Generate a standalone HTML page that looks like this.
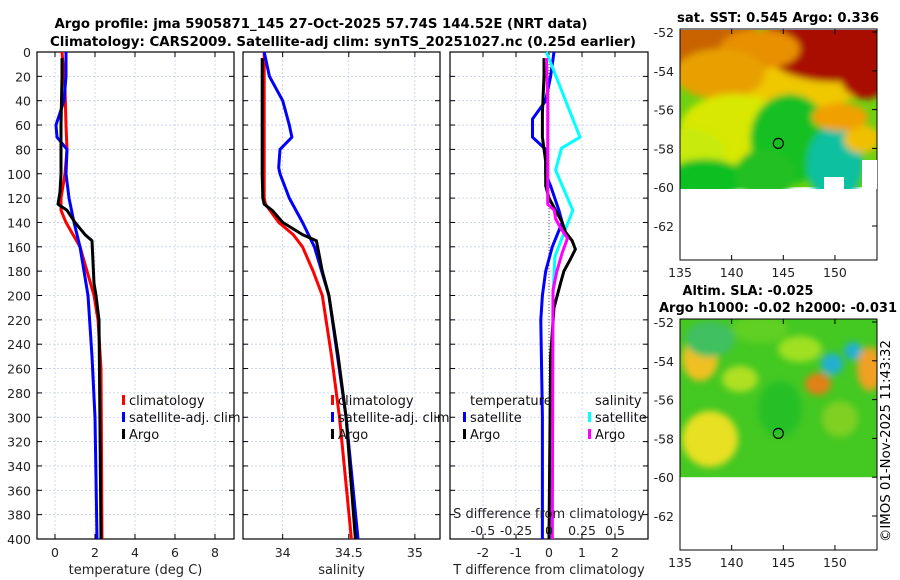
<!DOCTYPE html>
<html><head><meta charset="utf-8"><style>
body{margin:0;background:#fff;}
svg{display:block;font-family:"DejaVu Sans","Liberation Sans",sans-serif;}
</style></head><body>
<svg id="chart" width="900" height="580" viewBox="0 0 900 580" xmlns="http://www.w3.org/2000/svg">
<defs>
<filter id="blur1" x="-20%" y="-20%" width="140%" height="140%"><feGaussianBlur stdDeviation="3.5"/></filter>
<clipPath id="clipTop"><rect x="680" y="30" width="197" height="159"/></clipPath>
<clipPath id="clipBot"><rect x="680" y="319" width="197" height="159"/></clipPath>
</defs>
<g font-weight="bold" font-size="13" text-anchor="middle" fill="#000" lengthAdjust="spacingAndGlyphs">
<text x="321" y="28" textLength="533" lengthAdjust="spacingAndGlyphs">Argo profile: jma 5905871_145 27-Oct-2025 57.74S 144.52E (NRT data)</text>
<text x="343" y="46" textLength="586" lengthAdjust="spacingAndGlyphs">Climatology: CARS2009. Satellite-adj clim: synTS_20251027.nc (0.25d earlier)</text>
<text x="778" y="22" textLength="202" lengthAdjust="spacingAndGlyphs">sat. SST: 0.545 Argo: 0.336</text>
<text x="748" y="295" textLength="131" lengthAdjust="spacingAndGlyphs">Altim. SLA: -0.025</text>
<text x="778" y="312" textLength="238" lengthAdjust="spacingAndGlyphs">Argo h1000: -0.02 h2000: -0.031</text>
</g>
<g id="panels"></g>
<g id="maps"></g>
<text font-size="13" transform="translate(890,542) rotate(-90)" textLength="202" lengthAdjust="spacingAndGlyphs">©IMOS 01-Nov-2025 11:43:32</text>
</svg>
<script>
// ---- data: depth (m) and values ----
const depthTicks = [0,20,40,60,80,100,120,140,160,180,200,220,240,260,280,300,320,340,360,380,400];
const tTicks = [0,2,4,6,8];
const sTicks = [34,34.5,35];
const dTicks = [-2,-1,0,1,2];
const dsTicks = [-0.5,-0.25,0,0.25,0.5];
const dsTickLabels = ["-0.5","-0.25","0","0.25","0.5"];

const climTDepth = [0,30,60,80,100,120,130,140,150,160,180,200,220,260,400];
const climTValue = [0.35,0.5,0.55,0.6,0.5,0.3,0.3,0.55,0.9,1.25,1.6,1.95,2.15,2.3,2.35];
const satTDepth = [0,20,40,55,60,70,80,100,120,140,160,180,200,250,300,400];
const satTValue = [0.55,0.55,0.45,0.15,0.05,0.1,0.6,0.55,0.7,0.95,1.25,1.45,1.65,1.85,2.0,2.1];
const argoTDepth = [5,20,60,100,115,125,130,140,150,155,190,200,220,400];
const argoTValue = [0.35,0.35,0.3,0.3,0.25,0.15,0.6,1.0,1.5,1.85,1.95,2.05,2.2,2.3];

const climSDepth = [0,120,125,140,150,160,180,200,250,300,400];
const climSValue = [33.86,33.86,33.87,33.97,34.08,34.15,34.23,34.3,34.37,34.43,34.52];
const satSDepth = [0,20,40,60,70,80,95,100,120,140,160,200,300,400];
const satSValue = [33.86,33.9,34.0,34.05,34.07,33.98,33.97,33.98,34.05,34.15,34.24,34.35,34.48,34.57];
const argoSDepth = [5,100,120,125,130,140,150,155,180,200,250,300,400];
const argoSValue = [33.845,33.845,33.85,33.86,33.92,34.0,34.15,34.255,34.3,34.35,34.42,34.48,34.55];

const satDTDepth = [0,20,40,55,70,80,100,110,130,140,160,180,200,220,300,400];
const satDTValue = [0.15,0.05,-0.1,-0.5,-0.5,-0.1,-0.1,0.05,0.3,0.4,0.1,-0.1,-0.2,-0.25,-0.2,-0.2];
const argoDTDepth = [5,20,50,70,90,110,120,130,140,148,155,162,170,180,190,210,250,400];
const argoDTValue = [-0.15,-0.15,-0.2,-0.2,-0.1,-0.1,0,0.2,0.4,0.5,0.7,0.8,0.65,0.45,0.35,0.15,0.05,0.0];
const satDSDepth = [0,70,79,97,130,168,200,400];
const satDSValue = [-0.02,0.235,0.095,0.05,0.18,0.045,0.03,0.02];
const argoDSDepth = [5,40,125,130,137,145,153,165,180,196,400];
const argoDSValue = [-0.02,-0.01,-0.01,0.04,0.05,0.09,0.14,0.1,0.06,0.03,0.025];

const NS="http://www.w3.org/2000/svg";
function mk(tag,attrs,parent,text){const e=document.createElementNS(NS,tag);for(const k in attrs)e.setAttribute(k,attrs[k]);if(text!==undefined)e.textContent=text;parent.appendChild(e);return e;}
const yTop=52,yBot=539;
const yScale=d=>yTop+(d/400)*(yBot-yTop);
const panels=document.getElementById('panels');

function panel(name,x0,x1,vmin,vmax,ticks,labels,axisLabel){
  const g=mk('g',{},panels);
  
  
  const xs=v=>x0+(v-vmin)/(vmax-vmin)*(x1-x0);
  for(const d of depthTicks){mk('line',{x1:x0,x2:x1,y1:yScale(d),y2:yScale(d),stroke:'#c5cde8','stroke-width':0.8,'stroke-dasharray':'2,2'},g);
    mk('line',{x1:x0,x2:x0+5,y1:yScale(d),y2:yScale(d),stroke:'#000'},g);mk('line',{x1:x1-5,x2:x1,y1:yScale(d),y2:yScale(d),stroke:'#000'},g);}
  ticks.forEach((t,i)=>{const x=xs(t);mk('line',{x1:x,x2:x,y1:yTop,y2:yBot,stroke:'#c5cde8','stroke-width':0.8,'stroke-dasharray':'2,2'},g);
    mk('line',{x1:x,x2:x,y1:yBot-5,y2:yBot,stroke:'#000'},g);mk('line',{x1:x,x2:x,y1:yTop,y2:yTop+5,stroke:'#000'},g);
    const t2=mk('text',{x:x,y:557,'font-size':12.5,'text-anchor':'middle',fill:'#222'},g,labels[i]);
    
    });
  mk('rect',{x:x0,y:yTop,width:x1-x0,height:yBot-yTop,fill:'none',stroke:'#000','stroke-width':1.2},g);
  const al=mk('text',{x:(x0+x1)/2,y:574,'font-size':13,'text-anchor':'middle',fill:'#222'},g,axisLabel);
  
  
  return {g,xs};
}
function line(p,depths,vals,color,name,conv){
  const pts=depths.map((d,i)=>p.xs(conv?conv(vals[i]):vals[i]).toFixed(1)+','+yScale(d).toFixed(1)).join(' ');
  const e=mk('polyline',{points:pts,fill:'none',stroke:color,'stroke-width':3,'stroke-linejoin':'round'},p.g);
  
  
}
function legend(g,x,y,color,label){
  if(color)mk('rect',{x:x-7,y:y-10,width:3,height:10,fill:color},g);
  const t=mk('text',{x:x,y:y,'font-size':13,fill:'#111'},g,label);
  
  
}

depthTicks.forEach(d=>{const t=mk('text',{x:31,y:yScale(d)+5,'font-size':12.5,'text-anchor':'end',fill:'#222'},panels,String(d));
  
  });

const p1=panel('temperature',37,234,-0.9,8.95,tTicks,tTicks.map(String),'temperature (deg C)');
line(p1,climTDepth,climTValue,'#f00','temp-climatology-line');
line(p1,satTDepth,satTValue,'#00f','temp-satellite-line');
line(p1,argoTDepth,argoTValue,'#000','temp-argo-line');
legend(p1.g,129,405,'#f00','climatology');legend(p1.g,129,422,'#00f','satellite-adj. clim');legend(p1.g,129,439,'#000','Argo');

const p2=panel('salinity',243,440,33.7,35.19,sTicks,['34','34.5','35'],'salinity');
line(p2,climSDepth,climSValue,'#f00','sal-climatology-line');
line(p2,satSDepth,satSValue,'#00f','sal-satellite-line');
line(p2,argoSDepth,argoSValue,'#000','sal-argo-line');
legend(p2.g,338,405,'#f00','climatology');legend(p2.g,338,422,'#00f','satellite-adj. clim');legend(p2.g,338,439,'#000','Argo');

const p3=panel('difference',450,648,-3,3,dTicks,dTicks.map(String),'T difference from climatology');
mk('line',{x1:p3.xs(0),x2:p3.xs(0),y1:yTop,y2:yBot,stroke:'#555','stroke-dasharray':'1,2'},p3.g);
line(p3,satDTDepth,satDTValue,'#00f','tdiff-satellite-line');
line(p3,satDSDepth,satDSValue,'#0ff','sdiff-satellite-line',v=>v*4);
line(p3,argoDTDepth,argoDTValue,'#000','tdiff-argo-line');
line(p3,argoDSDepth,argoDSValue,'#f0f','sdiff-argo-line',v=>v*4);
legend(p3.g,470,405,null,'temperature');legend(p3.g,470,422,'#00f','satellite');legend(p3.g,470,439,'#000','Argo');
legend(p3.g,595,405,null,'salinity');legend(p3.g,595,422,'#0ff','satellite');legend(p3.g,595,439,'#f0f','Argo');
const st=mk('text',{x:549,y:518,'font-size':13,'text-anchor':'middle',fill:'#222'},p3.g,'S difference from climatology');


dsTicks.forEach((v,i)=>{const t=mk('text',{x:p3.xs(v*4),y:535,'font-size':12.5,'text-anchor':'middle',fill:'#222'},p3.g,dsTickLabels[i]);
  
  });

// ---- maps ----
const lonTicks=[135,140,145,150];
const latTicks=[-52,-54,-56,-58,-60,-62];
const maps=document.getElementById('maps');
function map(name,top,clip,blobs,base){
  const g=mk('g',{},maps);
  
  
  const lx=l=>680+(l-135)*10.33;
  const ly=l=>top+3+(-52-l)*19.4;
  const bottom=top+231;
  const c=mk('g',{'clip-path':'url(#'+clip+')'},g);
  mk('rect',{x:680,y:top,width:197,height:ly(-60)-top,fill:base},c);
  const fg=mk('g',{filter:'url(#blur1)'},c);
  blobs.forEach(b=>mk('ellipse',{cx:b[0],cy:b[1]+top,rx:b[2],ry:b[3],fill:b[4]},fg));
  mk('circle',{cx:lx(144.52),cy:ly(-57.74),r:5,fill:'none',stroke:'#000','stroke-width':1.2},g);
  mk('rect',{x:680,y:top,width:197,height:bottom-top,fill:'none',stroke:'#000','stroke-width':1},g);
  latTicks.forEach(l=>{const y=ly(l);mk('line',{x1:877,x2:872,y1:y,y2:y,stroke:'#000'},g);
    const t=mk('text',{x:674,y:y+5,'font-size':12.5,'text-anchor':'end',fill:'#222'},g,String(l));
    
    });
  lonTicks.forEach(l=>{const x=lx(l);mk('line',{x1:x,x2:x,y1:bottom,y2:bottom-5,stroke:'#000'},g);mk('line',{x1:x,x2:x,y1:top,y2:top+5,stroke:'#000'},g);
    const t=mk('text',{x:x,y:bottom+17,'font-size':12.5,'text-anchor':'middle',fill:'#222'},g,String(l));
    
    });
  return g;
}
const gTop=map('sst-map',29,'clipTop',[
 [700,15,60,40,'#c86400'],[790,45,90,35,'#f0c800'],[835,15,75,38,'#a80a00'],[865,45,25,25,'#a80a00'],
 [760,20,40,20,'#e89000'],[720,45,45,25,'#e8a000'],[735,100,55,35,'#d8e800'],[690,125,35,25,'#c8ea10'],
 [790,110,40,45,'#18c020'],[835,135,28,38,'#10c0a0'],[705,150,40,20,'#10c020'],[765,145,30,25,'#20c020'],
 [862,110,18,14,'#f0c000'],[840,88,28,14,'#f0a000']],'#70d010');
mk('rect',{x:862,y:160,width:15,height:29,fill:'#fff'},gTop);
mk('rect',{x:824,y:177,width:20,height:12,fill:'#fff'},gTop);

const gBot=map('sla-map',319,'clipBot',[
 [700,40,18,22,'#f0c020'],[710,120,28,28,'#e8e020'],[710,20,25,18,'#40c060'],[760,10,28,14,'#60d020'],
 [818,65,13,11,'#e08018'],[832,45,11,11,'#20b0d0'],[853,32,9,9,'#20b0d0'],[870,50,13,22,'#f0a020'],
 [800,30,22,13,'#a0e020'],[740,60,18,13,'#b0e020'],[780,90,22,28,'#28c028'],[840,100,18,18,'#80d020']],'#44c822');
</script>
</body></html>
